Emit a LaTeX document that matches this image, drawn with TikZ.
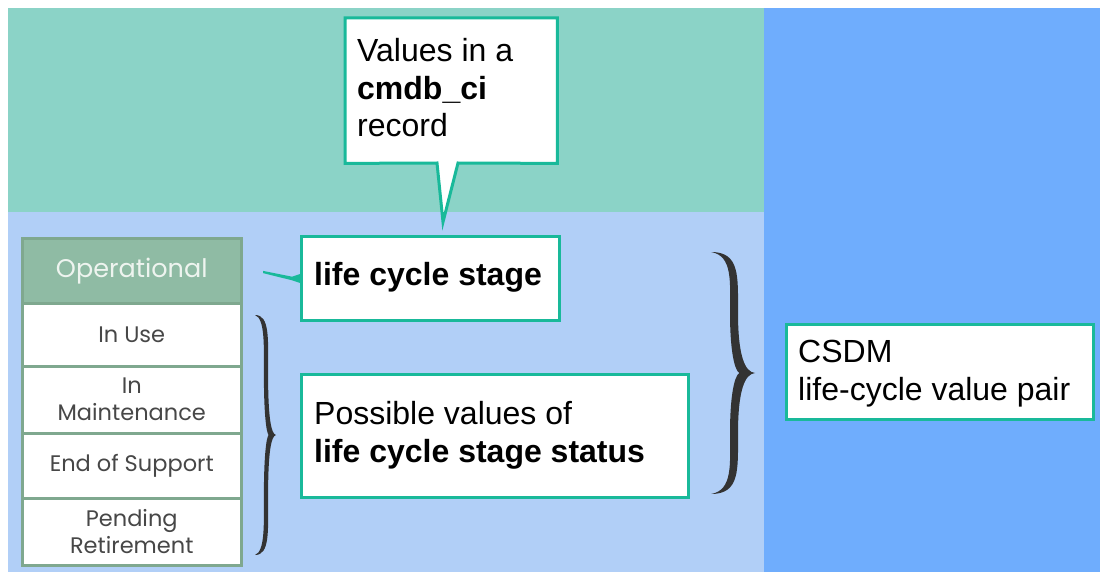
\documentclass[tikz,border=0pt]{standalone}
\usepackage{fontspec}
\usetikzlibrary{calc}
\setmainfont{Liberation Sans}
\newfontfamily\tabfont{Poppins}
\definecolor{tealbg}{HTML}{8BD3C7}
\definecolor{lightbg}{HTML}{B1CFF7}
\definecolor{bluebg}{HTML}{6FADFD}
\definecolor{tealline}{HTML}{19B99A}
\definecolor{cellline}{HTML}{7FA88F}
\definecolor{opfill}{HTML}{8FBBA4}
\definecolor{optext}{HTML}{EEF4EF}
\definecolor{celltext}{HTML}{474747}
\definecolor{bracecol}{HTML}{333333}
\newcommand\curlybrace[7]{%
\pgfmathsetmacro\bL{#1}\pgfmathsetmacro\bS{#2}\pgfmathsetmacro\bX{#3}%
\pgfmathsetmacro\bT{#4}\pgfmathsetmacro\bM{#5}\pgfmathsetmacro\bB{#6}%
\pgfmathsetmacro\bh{\bM-\bT}%
\pgfmathsetmacro\bR{\bS+#7}\pgfmathsetmacro\bE{\bS-#7}%
\pgfmathsetmacro\bQ{\bS+0.5*(\bX-\bS)}\pgfmathsetmacro\bP{\bS+0.25*(\bX-\bS)}%
\fill[bracecol] (\bL,\bT) .. controls ({\bR+2},\bT) and (\bR,{\bT+0.2*\bh}) .. (\bR,{\bT+0.5*\bh})
 .. controls (\bR,{\bM-0.15*\bh}) and (\bQ,{\bM-1}) .. (\bX,\bM)
 .. controls (\bQ,{\bM+1}) and (\bR,{\bM+0.15*\bh}) .. (\bR,{\bB-0.5*\bh})
 .. controls (\bR,{\bB-0.2*\bh}) and ({\bR+2},\bB) .. (\bL,\bB)
 .. controls ({\bS-1},{\bB-0.03*\bh}) and (\bE,{\bB-0.25*\bh}) .. (\bE,{\bB-0.5*\bh})
 .. controls (\bE,{\bM+0.2*\bh}) and (\bS,{\bM+0.03*\bh}) .. (\bP,\bM)
 .. controls (\bS,{\bM-0.03*\bh}) and (\bE,{\bM-0.2*\bh}) .. (\bE,{\bT+0.5*\bh})
 .. controls (\bE,{\bT+0.25*\bh}) and ({\bS-1},{\bT+0.03*\bh}) .. (\bL,\bT) -- cycle;}
\tikzset{
  tealbox/.style={draw=tealline, line width=3pt, fill=white, rectangle, inner sep=0pt, anchor=north west},
  lbl/.style={font=\fontsize{32}{38}\selectfont, text=black, inner sep=0pt, anchor=base west},
  cell/.style={draw=cellline, line width=2.5pt, fill=white, rectangle, minimum width=219pt,
    anchor=north west, inner sep=0pt, align=center, text=celltext,
    font=\tabfont\fontsize{22.5}{27}\selectfont},
}
\begin{document}
\begin{tikzpicture}[x=1pt,y=-1pt]
\useasboundingbox (0,0) rectangle (1100,572);
\fill[white] (0,0) rectangle (1100,572);
\fill[tealbg] (8,8) rectangle (764,212);
\fill[lightbg] (8,212) rectangle (764,572);
\fill[bluebg] (764,8) rectangle (1100,572);

% callout
\node[rectangle, inner sep=0pt, minimum width=212pt, minimum height=145pt, anchor=north west] (vals) at (345,18) {};
\coordinate (valtip) at (443,222);
\draw[draw=tealline, line width=3pt, fill=white, line join=miter]
  (vals.north west) -- (vals.north east) -- (vals.south east) -- (458,163) -- (valtip)
  -- (437,163) -- (vals.south west) -- cycle;
\node[lbl] (valsA) at (357,62) {Values in a};
\node[lbl] (valsB) at (357,100) {\bfseries cmdb\_ci};
\node[lbl] (valsC) at (357,137) {record};

% table
\node[cell, minimum height=65pt, fill=opfill, text=optext, font=\tabfont\fontsize{25.5}{30}\selectfont] (op) at (21,237) {Operational};
\node[cell, minimum height=63pt] (inuse) at (21,302) {In Use};
\node[cell, minimum height=67pt] (maint) at (21,365) {In\\Maintenance};
\node[cell, minimum height=65pt] (eos) at (21,432) {End of Support};
\node[cell, minimum height=67pt] (pend) at (21,497) {Pending\\Retirement};

% life cycle stage box
\node[tealbox, minimum width=258pt, minimum height=84pt] (stage) at (300,235) {};
\node[lbl] (stageT) at (314,285) {\bfseries life cycle stage};
\coordinate (stagetip) at (263,272);
\fill[tealline] ($(stage.west)+(0,-4.5)$) -- ($(stage.west)+(-8,-1.8)$) -- ($(stagetip)+(0,-1.1)$)
  -- ($(stagetip)+(0,1.1)$) -- ($(stage.west)+(-8,1.8)$) -- ($(stage.west)+(0,4.5)$) -- cycle;

% possible values box
\node[tealbox, minimum width=387pt, minimum height=123pt] (poss) at (300,373) {};
\node[lbl] (possA) at (314,424) {Possible values of};
\node[lbl] (possB) at (314,462) {\bfseries life cycle stage status};

% CSDM box
\node[tealbox, minimum width=307pt, minimum height=95pt] (csdm) at (785,323) {};
\node[lbl] (csdmA) at (798,362) {CSDM};
\node[lbl] (csdmB) at (798,400) {life-cycle value pair};

% braces
\curlybrace{255}{266}{276}{315}{435}{555}{2.1}
\curlybrace{711}{734}{755}{252}{373}{494}{4}
\end{tikzpicture}
\end{document}
